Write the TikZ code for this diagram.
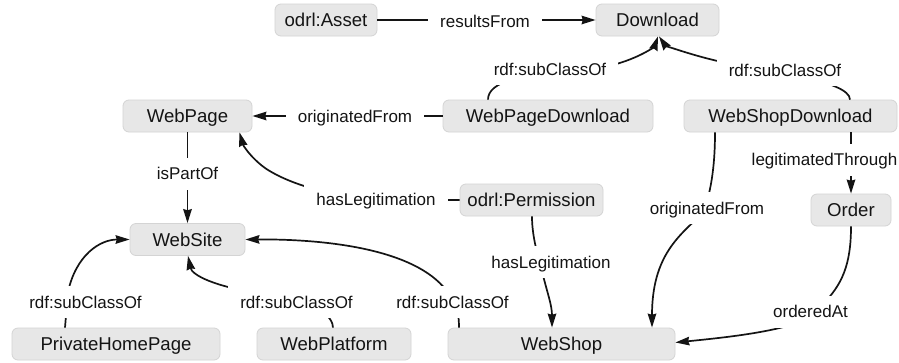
\documentclass[tikz,border=0pt]{standalone}
\usepackage{fontspec}
\setmainfont{Liberation Sans}
\usetikzlibrary{arrows.meta}
\definecolor{boxfill}{RGB}{231,231,231}
\definecolor{boxline}{RGB}{212,212,212}
\definecolor{ink}{RGB}{20,20,20}

\tikzset{
  cls/.style={draw=boxline, fill=boxfill, rounded corners=6pt, line width=0.8pt,
    minimum height=32pt, inner xsep=0pt, inner ysep=0pt,
    text height=13.3pt, text depth=0pt, text=ink,
    font=\fontsize{18.6}{22}\selectfont},
  rel/.style={fill=white, inner xsep=12pt, inner ysep=0pt, minimum height=32pt,
    text height=12.2pt, text depth=0pt, text=ink,
    font=\fontsize{17}{20}\selectfont},
  link/.style={draw=ink, line width=1.7pt},
  arr/.style={link, -{Stealth[length=14pt,width=8.5pt,inset=1.2pt]}},
}

\begin{document}
\begin{tikzpicture}[x=1pt,y=-1pt]
\fill[white] (0,0) rectangle (899,362);
\useasboundingbox (0,0) rectangle (899,362);

% classes
\node[cls, minimum width=102pt] (asset)    at (326,20)      {odrl:Asset};
\node[cls, minimum width=123pt] (download) at (657.5,20)    {Download};
\node[cls, minimum width=129pt] (webpage)  at (187.5,116)   {WebPage};
\node[cls, minimum width=210pt] (wpd)      at (548,116)     {WebPageDownload};
\node[cls, minimum width=213pt] (wsd)      at (790.5,116)   {WebShopDownload};
\node[cls, minimum width=143pt] (perm)     at (531.5,200)   {odrl:Permission};
\node[cls, minimum width=80pt]  (order)    at (851,210)     {Order};
\node[cls, minimum width=115pt] (website)  at (187.5,239.5) {WebSite};
\node[cls, minimum width=208pt] (php)      at (116,344)     {PrivateHomePage};
\node[cls, minimum width=154pt] (platform) at (334,344)     {WebPlatform};
\node[cls, minimum width=227pt] (webshop)  at (561.5,344)   {WebShop};

% properties (drawn first, the labels sit on top of them)
\draw[arr] (asset) -- (download);
\draw[arr] ([xshift=-60pt]wpd.north) .. controls (488,82) and (520,72) .. (600,68)
  .. controls (640,60) and (655,45) .. ([xshift=0.5pt]download.south);
\draw[arr] ([xshift=59.5pt]wsd.north) .. controls (850,80) and (760,70) .. (722,62)
  .. controls (690,55) and (665,45) .. ([xshift=1.5pt]download.south);
\draw[arr] (wpd) -- (webpage);
\draw[arr] (webpage) -- (website);
\draw[arr] (perm.west) -- (400,200) .. controls (340,200) and (290,185) .. (265,168)
  .. controls (250,157) and (243,145) .. ([xshift=52pt]webpage.south);
\draw[arr] ([xshift=0.5pt]perm.south) .. controls (532,240) and (540,262) .. (543,275)
  .. controls (547,292) and (552,305) .. ([xshift=-9.5pt]webshop.north);
\draw[arr] ([xshift=-75.5pt]wsd.south) .. controls (715,170) and (710,195) .. (703,213)
  .. controls (680,235) and (652,255) .. ([xshift=90.5pt]webshop.north);
\draw[arr] ([xshift=60.5pt]wsd.south) -- (order.north);
\draw[arr] (order.south) .. controls (851,265) and (842,285) .. (822,305) -- (800,322)
  .. controls (770,333) and (720,338) .. ([yshift=1.5pt]webshop.east);
\draw[arr] ([xshift=-51pt]php.north) -- (68,292)
  .. controls (76,255) and (100,239.5) .. (website.west);
\draw[arr] ([xshift=-1pt]platform.north) .. controls (333,318) and (320,300) .. (260,293)
  .. controls (215,287) and (192,275) .. ([xshift=0.5pt]website.south);
\draw[arr] ([xshift=-102.5pt]webshop.north) .. controls (459,310) and (455,298) .. (446,290)
  .. controls (415,250) and (330,239) .. (website.east);

% property labels
\node[rel] (l1)  at (485,21)      {resultsFrom};
\node[rel] (l2)  at (550,69)      {rdf:subClassOf};
\node[rel] (l3)  at (785,70)      {rdf:subClassOf};
\node[rel] (l4)  at (355,116)     {originatedFrom};
\node[rel] (l5)  at (187.5,173.5) {isPartOf};
\node[rel] (l6)  at (376,199)     {hasLegitimation};
\node[rel] (l7)  at (551,262)     {hasLegitimation};
\node[rel] (l8)  at (707,208)     {originatedFrom};
\node[rel] (l9)  at (824.5,159.5) {legitimatedThrough};
\node[rel] (l10) at (810.5,311.5) {orderedAt};
\node[rel] (l11) at (85.5,302)    {rdf:subClassOf};
\node[rel] (l12) at (296.5,302)   {rdf:subClassOf};
\node[rel] (l13) at (452.5,302)   {rdf:subClassOf};
\end{tikzpicture}
\end{document}
